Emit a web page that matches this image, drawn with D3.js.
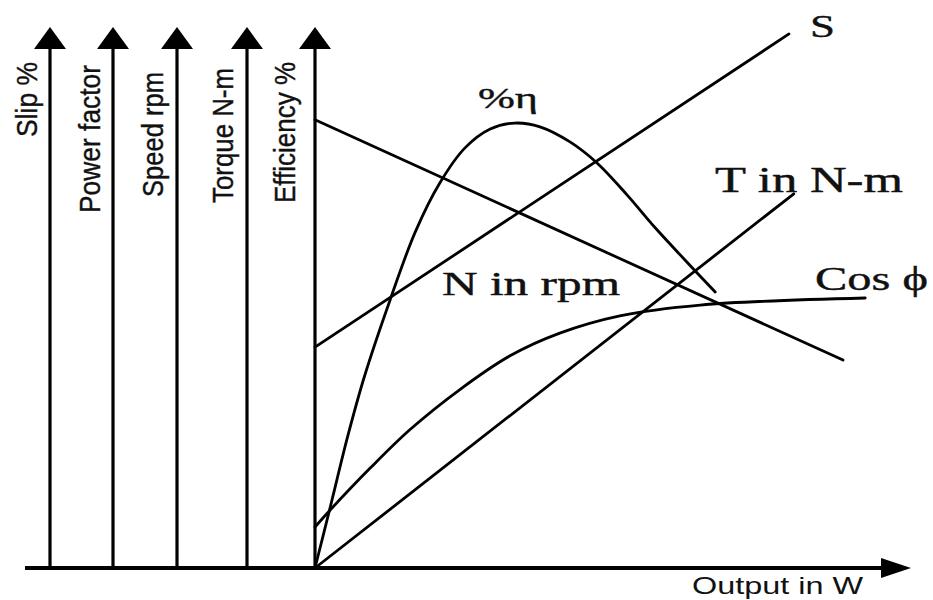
<!DOCTYPE html>
<html>
<head>
<meta charset="utf-8">
<script src="https://cdn.jsdelivr.net/npm/d3@7"></script>
<style>
  body { margin: 0; background: #fff; }
  svg { display: block; }
  .sans { font-family: "Liberation Sans", Arial, sans-serif; }
  .serif { font-family: "Liberation Serif", "Times New Roman", serif; }
</style>
</head>
<body>
<div id="chart"></div>
<script>
// Vertical axes on the left (quantity names)
const axisNames = ['Slip %', 'Power factor', 'Speed rpm', 'Torque N-m', 'Efficiency %'];

// Curves, as [output, value] pairs (output and value in % of full scale)
const efficiency = [[0, 0], [2.5, 11.1], [5.5, 24.6], [8.3, 35.7], [12.5, 49.6], [16.7, 62.2],
    [20.8, 71.3], [25, 77.8], [29.2, 81.3], [33.3, 82.4], [37.5, 81.7], [42.5, 78.9],
    [47, 75], [52, 69.1], [56.7, 63], [61.7, 57], [66.7, 51.1]];
const powerFactor = [[0, 7.6], [2.5, 10.7], [9.2, 18.5], [15.8, 25.6], [24.2, 33.1],
    [32.5, 39.3], [40.8, 43.5], [50.8, 46.7], [64.2, 48.7], [91.7, 50]];
const speed = [[0, 83], [88, 38.5]];
const slip = [[0, 40.9], [79, 98.9]];
const torque = [[0, 0], [79.8, 69.3]];

const width = 933, height = 600;

const svg = d3.select('#chart').append('svg')
    .attr('width', width)
    .attr('height', height);

// scales: output along x, every quantity along y
const x = d3.scaleLinear().domain([0, 100]).range([315, 915]);
const y = d3.scaleLinear().domain([0, 100]).range([568, 28]);

// left axes positions
const axisX = [50, 113, 177, 247, x(0)];
const arrowLen = 21, arrowHalf = 16;

// horizontal axis
svg.append('line')
    .attr('x1', 25).attr('x2', x(100) - 20)
    .attr('y1', y(0)).attr('y2', y(0))
    .attr('stroke', '#000').attr('stroke-width', 4);
svg.append('path')
    .attr('d', `M${x(100) - 4},${y(0)} L${x(100) - 34},${y(0) - 10} L${x(100) - 34},${y(0) + 10} Z`)
    .attr('fill', '#000');

// vertical axes with arrows
axisNames.forEach((name, i) => {
    const ax = axisX[i];
    svg.append('line')
        .attr('x1', ax).attr('x2', ax)
        .attr('y1', y(0)).attr('y2', y(100) + 10)
        .attr('stroke', '#000').attr('stroke-width', 3.2);
    svg.append('path')
        .attr('d', `M${ax},${y(100) - 1} L${ax - arrowHalf},${y(100) + arrowLen} L${ax + arrowHalf},${y(100) + arrowLen} Z`)
        .attr('fill', '#000');
});

// rotated axis labels
const labelLen = [75, 148, 125, 135, 141];
const labelBottom = [137, 213, 197, 203, 203];
const labelBase = [37, 100, 163, 233, 295];
axisNames.forEach((name, i) => {
    svg.append('text')
        .attr('class', 'sans')
        .attr('transform', `translate(${labelBase[i]},${labelBottom[i]}) rotate(-90)`)
        .attr('font-size', 30)
        .attr('textLength', labelLen[i])
        .attr('lengthAdjust', 'spacingAndGlyphs')
        .attr('fill', '#111')
        .attr('stroke', '#111')
        .attr('stroke-width', 0.4)
        .text(name);
});

// curves
const line = d3.line().x(d => x(d[0])).y(d => y(d[1]));
const smooth = d3.line().x(d => x(d[0])).y(d => y(d[1])).curve(d3.curveCatmullRom.alpha(0.5));

[[efficiency, smooth], [powerFactor, smooth], [speed, line], [slip, line], [torque, line]]
    .forEach(([data, gen]) => {
        svg.append('path')
            .datum(data)
            .attr('d', gen)
            .attr('fill', 'none')
            .attr('stroke', '#000')
            .attr('stroke-width', 2.8)
            .attr('stroke-linecap', 'round');
    });

// curve labels
const curveLabels = [
    { t: 'S', x: 810, y: 37, size: 31, len: 25 },
    { t: '%\u03b7', x: 478, y: 108, size: 30, len: 60 },
    { t: 'T in N-m', x: 715, y: 192, size: 35, len: 188 },
    { t: 'N in rpm', x: 442, y: 295, size: 33, len: 178 },
    { t: 'Cos \u03d5', x: 815, y: 290, size: 34, len: 113 }
];
curveLabels.forEach(d => {
    svg.append('text')
        .attr('class', 'serif')
        .attr('x', d.x).attr('y', d.y)
        .attr('font-size', d.size)
        .attr('textLength', d.len)
        .attr('lengthAdjust', 'spacingAndGlyphs')
        .attr('fill', '#111')
        .attr('stroke', '#111')
        .attr('stroke-width', 0.4)
        .text(d.t);
});

// x axis title
svg.append('text')
    .attr('class', 'sans')
    .attr('x', 692).attr('y', 594)
    .attr('font-size', 24)
    .attr('textLength', 171)
    .attr('lengthAdjust', 'spacingAndGlyphs')
    .attr('fill', '#111')
    .text('Output in W');
</script>
</body>
</html>
